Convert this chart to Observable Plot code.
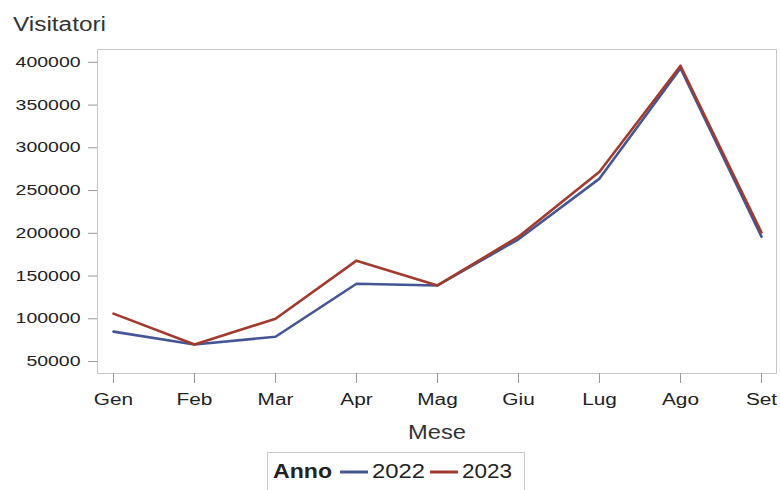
<!DOCTYPE html>
<html>
<head>
<meta charset="utf-8">
<script src="https://cdn.jsdelivr.net/npm/d3@7"></script>
<script src="https://cdn.jsdelivr.net/npm/@observablehq/plot@0.6"></script>
<style>
  body { margin: 0; background: #fff; font-family: "Liberation Sans", Arial, sans-serif; }
  #title { height: 38px; box-sizing: border-box; padding: 14px 0 0 13px; font-size: 20px; line-height: 20px; color: #333; white-space: nowrap; }
  #title span { display: inline-block; transform-origin: left center; }
  #chart svg, #legend svg { display: block; }
</style>
</head>
<body>
<div id="title"><span>Visitatori</span></div>
<div id="chart"></div>
<div id="legend"></div>
<script>
const months = ["Gen", "Feb", "Mar", "Apr", "Mag", "Giu", "Lug", "Ago", "Set"];
const years = ["2022", "2023"];
const v2022 = [85000, 70000, 79000, 141000, 139000, 193000, 264000, 393000, 196000];
const v2023 = [106000, 70000, 100000, 168000, 139000, 196000, 272000, 396000, 201000];
const yTicks = [50000, 100000, 150000, 200000, 250000, 300000, 350000, 400000];
const colors = ["#445694", "#A23A2E"];
const xTitle = "Mese";
const legendTitle = "Anno";

const data = [];
months.forEach((m, i) => {
  data.push({Mese: m, Anno: years[0], Visitatori: v2022[i]});
  data.push({Mese: m, Anno: years[1], Visitatori: v2023[i]});
});

const font = "'Liberation Sans', Arial, sans-serif";

const plot = Plot.plot({
  width: 780,
  height: 410,
  marginTop: 11,
  marginBottom: 75,
  marginLeft: 97,
  marginRight: 4,
  style: { fontFamily: font, fontSize: "14px", color: "#222" },
  x: { type: "point", domain: months, padding: 0.185 },
  y: { domain: [36000, 415000] },
  color: { domain: years, range: colors },
  marks: [
    Plot.frame({ stroke: "#c8c8c8" }),
    Plot.axisY({ ticks: yTicks, tickFormat: d3.format("d"), tickSize: 9, tickPadding: 8, label: null, stroke: "#999", fontSize: 14 }),
    Plot.axisX({ tickSize: 10, tickPadding: 10, label: null, stroke: "#999", fontSize: 16 }),
    Plot.text([xTitle], { text: d => d, frameAnchor: "bottom", lineAnchor: "bottom", dy: 65, fontSize: 21, fill: "#333" }),
    Plot.line(data, { x: "Mese", y: "Visitatori", stroke: "Anno", strokeWidth: 2.6 })
  ]
});
document.getElementById("chart").append(plot);

// widen glyphs horizontally to match the reference rendering
function stretch(sel, k) {
  plot.querySelectorAll(sel).forEach(t => {
    const L = t.getComputedTextLength();
    t.setAttribute("textLength", (L * k).toFixed(1));
    t.setAttribute("lengthAdjust", "spacingAndGlyphs");
  });
}
stretch('g[aria-label="y-axis tick label"] text', 1.39);
stretch('g[aria-label="x-axis tick label"] text', 1.3);
stretch('g[aria-label="text"] text', 1.13);

const titleSpan = document.querySelector("#title span");
titleSpan.style.transform = `scaleX(${(93 / titleSpan.getBoundingClientRect().width).toFixed(3)})`;

// legend below the chart
const lsvg = d3.select("#legend").append("svg").attr("width", 780).attr("height", 42)
  .style("font-family", font);
lsvg.append("rect").attr("x", 267.5).attr("y", 4.5).attr("width", 257).attr("height", 50)
  .attr("fill", "none").attr("stroke", "#c8c8c8");
const baseY = 30;
const swX = [[340, 368], [430, 458]];
const txX = [372, 462];
const txW = [53, 50];
lsvg.append("text").attr("x", 273).attr("y", baseY).attr("font-size", 21)
  .attr("font-weight", "bold").attr("fill", "#222")
  .attr("textLength", 59).attr("lengthAdjust", "spacingAndGlyphs").text(legendTitle);
years.forEach((y, i) => {
  lsvg.append("line").attr("x1", swX[i][0]).attr("x2", swX[i][1]).attr("y1", 24).attr("y2", 24)
    .attr("stroke", colors[i]).attr("stroke-width", 3);
  lsvg.append("text").attr("x", txX[i]).attr("y", baseY).attr("font-size", 21)
    .attr("fill", "#222").attr("textLength", txW[i]).attr("lengthAdjust", "spacingAndGlyphs").text(y);
});
</script>
</body>
</html>
